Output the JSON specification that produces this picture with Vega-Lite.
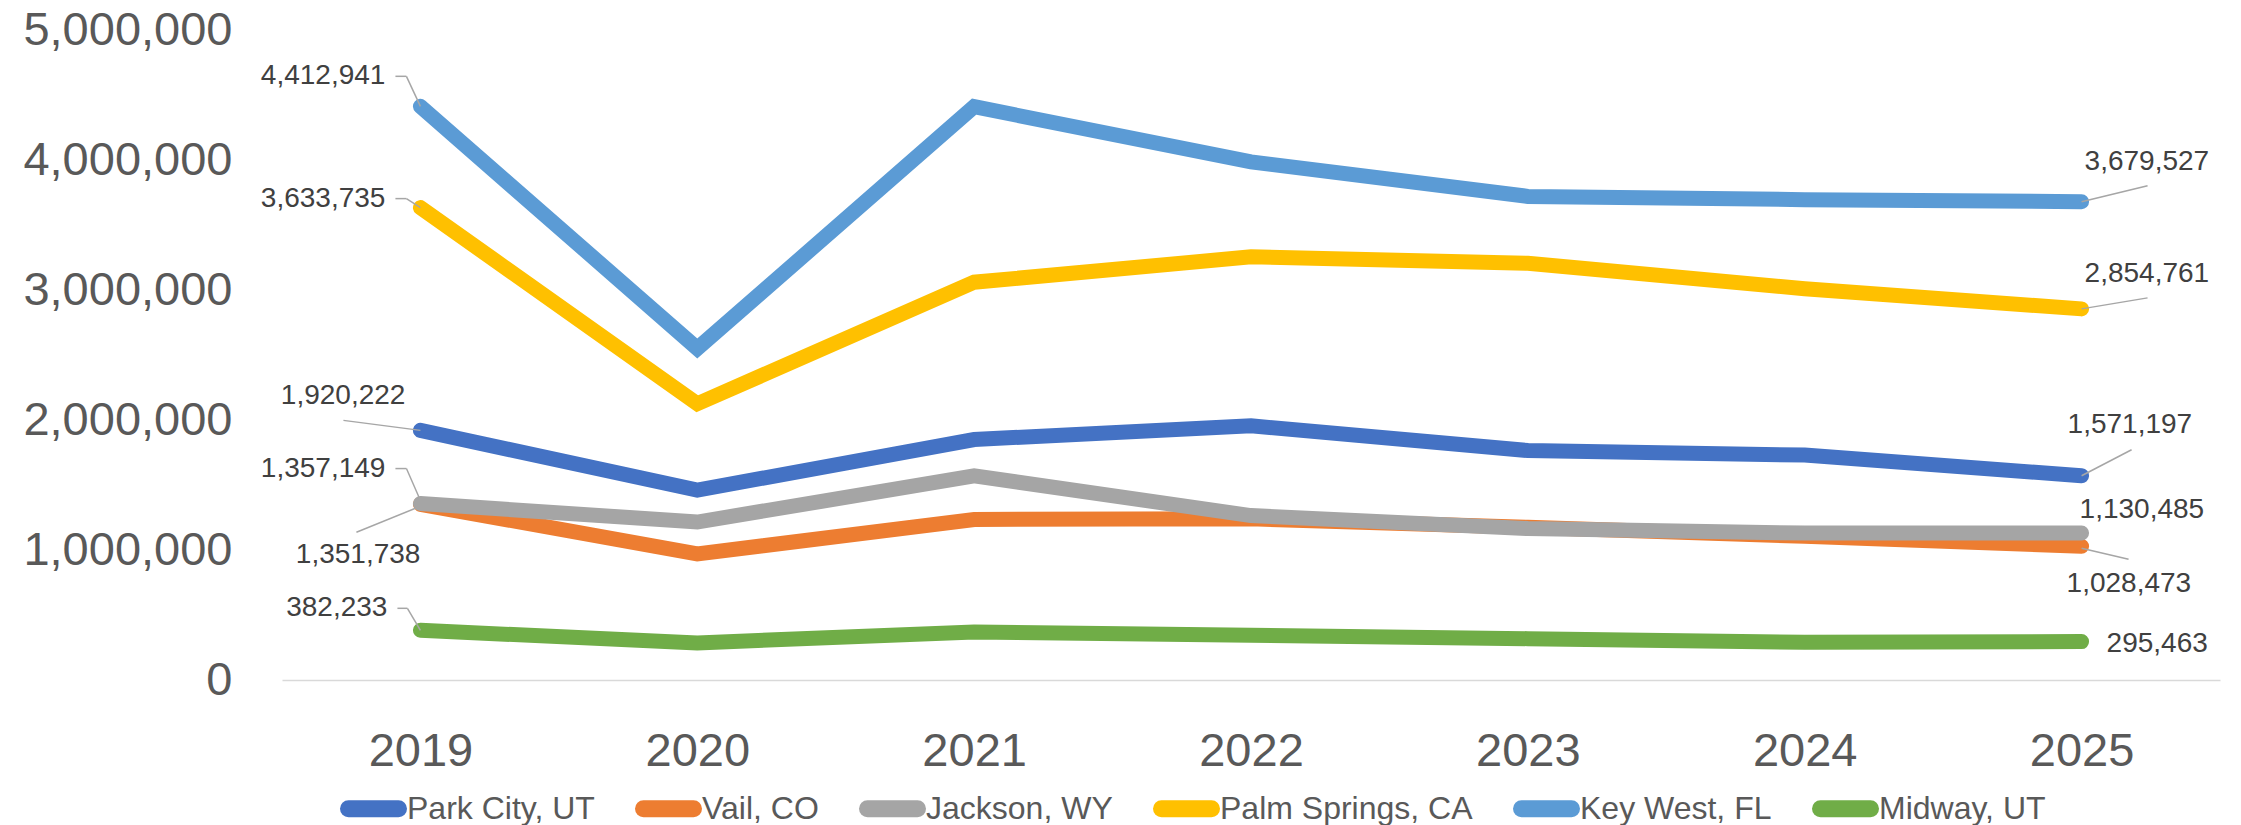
{
  "$schema": "https://vega.github.io/schema/vega-lite/v6.json",
  "autosize": "none",
  "width": 1938,
  "height": 650,
  "padding": {"left": 282, "top": 30, "right": 21, "bottom": 145},
  "background": "white",
  "config": {"view": {"stroke": null}, "font": "Liberation Sans"},
  "data": {"values": [
    {"city": "Park City, UT", "year": "2019", "value": 1920222},
    {"city": "Park City, UT", "year": "2020", "value": 1460000},
    {"city": "Park City, UT", "year": "2021", "value": 1850000},
    {"city": "Park City, UT", "year": "2022", "value": 1955000},
    {"city": "Park City, UT", "year": "2023", "value": 1765000},
    {"city": "Park City, UT", "year": "2024", "value": 1730000},
    {"city": "Park City, UT", "year": "2025", "value": 1571197},
    {"city": "Vail, CO", "year": "2019", "value": 1351738},
    {"city": "Vail, CO", "year": "2020", "value": 970000},
    {"city": "Vail, CO", "year": "2021", "value": 1235000},
    {"city": "Vail, CO", "year": "2022", "value": 1240000},
    {"city": "Vail, CO", "year": "2023", "value": 1175000},
    {"city": "Vail, CO", "year": "2024", "value": 1105000},
    {"city": "Vail, CO", "year": "2025", "value": 1028473},
    {"city": "Jackson, WY", "year": "2019", "value": 1357149},
    {"city": "Jackson, WY", "year": "2020", "value": 1215000},
    {"city": "Jackson, WY", "year": "2021", "value": 1570000},
    {"city": "Jackson, WY", "year": "2022", "value": 1265000},
    {"city": "Jackson, WY", "year": "2023", "value": 1165000},
    {"city": "Jackson, WY", "year": "2024", "value": 1130000},
    {"city": "Jackson, WY", "year": "2025", "value": 1130485},
    {"city": "Palm Springs, CA", "year": "2019", "value": 3633735},
    {"city": "Palm Springs, CA", "year": "2020", "value": 2125000},
    {"city": "Palm Springs, CA", "year": "2021", "value": 3060000},
    {"city": "Palm Springs, CA", "year": "2022", "value": 3255000},
    {"city": "Palm Springs, CA", "year": "2023", "value": 3205000},
    {"city": "Palm Springs, CA", "year": "2024", "value": 3010000},
    {"city": "Palm Springs, CA", "year": "2025", "value": 2854761},
    {"city": "Key West, FL", "year": "2019", "value": 4412941},
    {"city": "Key West, FL", "year": "2020", "value": 2550000},
    {"city": "Key West, FL", "year": "2021", "value": 4410000},
    {"city": "Key West, FL", "year": "2022", "value": 3985000},
    {"city": "Key West, FL", "year": "2023", "value": 3720000},
    {"city": "Key West, FL", "year": "2024", "value": 3695000},
    {"city": "Key West, FL", "year": "2025", "value": 3679527},
    {"city": "Midway, UT", "year": "2019", "value": 382233},
    {"city": "Midway, UT", "year": "2020", "value": 285000},
    {"city": "Midway, UT", "year": "2021", "value": 370000},
    {"city": "Midway, UT", "year": "2022", "value": 345000},
    {"city": "Midway, UT", "year": "2023", "value": 318000},
    {"city": "Midway, UT", "year": "2024", "value": 290000},
    {"city": "Midway, UT", "year": "2025", "value": 295463}
  ]},
  "encoding": {
    "x": {"field": "year", "type": "ordinal", "sort": null,
      "scale": {"type": "point", "padding": 0.5},
      "axis": {"title": null, "labelAngle": 0, "labelFontSize": 47, "labelColor": "#595959", "labelPadding": 48,
        "ticks": false, "tickSize": 0, "domain": true, "domainColor": "#D9D9D9", "domainWidth": 1.5, "grid": false, "labelFont": "Liberation Sans"}},
    "y": {"field": "value", "type": "quantitative",
      "scale": {"domain": [0, 5000000], "nice": false, "zero": true},
      "axis": {"title": null, "values": [0, 1000000, 2000000, 3000000, 4000000, 5000000], "format": ",d",
        "labelFontSize": 47, "labelColor": "#595959", "labelPadding": 50, "ticks": false, "tickSize": 0, "labelLimit": 400,
        "domain": false, "grid": false, "labelFont": "Liberation Sans"}}
  },
  "layer": [
    {
      "mark": {"type": "line", "strokeWidth": 15, "strokeCap": "round", "strokeJoin": "miter"},
      "encoding": {
        "color": {"field": "city", "type": "nominal",
          "scale": {"domain": ["Park City, UT", "Vail, CO", "Jackson, WY", "Palm Springs, CA", "Key West, FL", "Midway, UT"],
            "range": ["#4472C4", "#ED7D31", "#A5A5A5", "#FFC000", "#5B9BD5", "#70AD47"]},
          "legend": {"title": null, "orient": "none", "direction": "horizontal", "legendX": 58, "legendY": 745,
            "symbolType": "stroke", "symbolSize": 2500, "symbolStrokeWidth": 17, "labelFontSize": 32,
            "labelColor": "#595959", "labelFont": "Liberation Sans", "labelOffset": 0, "columnPadding": 14, "padding": 0,
            "labelLimit": 400,
            "encode": {"symbols": {"update": {"strokeCap": {"value": "round"}}}}}}
      }
    },
    {"transform": [{"filter": "datum.city == 'Key West, FL' && datum.year == '2019'"}],
      "mark": {"type": "rule", "color": "#A6A6A6", "strokeWidth": 1.5, "xOffset": -25, "yOffset": -30, "x2Offset": -14, "y2Offset": -30},
      "encoding": {"x2": {"field": "year"}, "y2": {"field": "value"}}},
    {"transform": [{"filter": "datum.city == 'Key West, FL' && datum.year == '2019'"}],
      "mark": {"type": "rule", "color": "#A6A6A6", "strokeWidth": 1.5, "xOffset": -14, "yOffset": -30, "x2Offset": 0, "y2Offset": 0},
      "encoding": {"x2": {"field": "year"}, "y2": {"field": "value"}}},
    {"transform": [{"filter": "datum.city == 'Palm Springs, CA' && datum.year == '2019'"}],
      "mark": {"type": "rule", "color": "#A6A6A6", "strokeWidth": 1.5, "xOffset": -25, "yOffset": -9, "x2Offset": -14, "y2Offset": -9},
      "encoding": {"x2": {"field": "year"}, "y2": {"field": "value"}}},
    {"transform": [{"filter": "datum.city == 'Palm Springs, CA' && datum.year == '2019'"}],
      "mark": {"type": "rule", "color": "#A6A6A6", "strokeWidth": 1.5, "xOffset": -14, "yOffset": -9, "x2Offset": 0, "y2Offset": 0},
      "encoding": {"x2": {"field": "year"}, "y2": {"field": "value"}}},
    {"transform": [{"filter": "datum.city == 'Jackson, WY' && datum.year == '2019'"}],
      "mark": {"type": "rule", "color": "#A6A6A6", "strokeWidth": 1.5, "xOffset": -25, "yOffset": -35, "x2Offset": -14, "y2Offset": -35},
      "encoding": {"x2": {"field": "year"}, "y2": {"field": "value"}}},
    {"transform": [{"filter": "datum.city == 'Jackson, WY' && datum.year == '2019'"}],
      "mark": {"type": "rule", "color": "#A6A6A6", "strokeWidth": 1.5, "xOffset": -14, "yOffset": -35, "x2Offset": 0, "y2Offset": -3},
      "encoding": {"x2": {"field": "year"}, "y2": {"field": "value"}}},
    {"transform": [{"filter": "datum.city == 'Midway, UT' && datum.year == '2019'"}],
      "mark": {"type": "rule", "color": "#A6A6A6", "strokeWidth": 1.5, "xOffset": -23, "yOffset": -22, "x2Offset": -13, "y2Offset": -22},
      "encoding": {"x2": {"field": "year"}, "y2": {"field": "value"}}},
    {"transform": [{"filter": "datum.city == 'Midway, UT' && datum.year == '2019'"}],
      "mark": {"type": "rule", "color": "#A6A6A6", "strokeWidth": 1.5, "xOffset": -13, "yOffset": -22, "x2Offset": 0, "y2Offset": 0},
      "encoding": {"x2": {"field": "year"}, "y2": {"field": "value"}}},
    {"transform": [{"filter": "datum.city == 'Park City, UT' && datum.year == '2019'"}],
      "mark": {"type": "rule", "color": "#A6A6A6", "strokeWidth": 1.5, "xOffset": -77, "yOffset": -10, "x2Offset": 0, "y2Offset": 0},
      "encoding": {"x2": {"field": "year"}, "y2": {"field": "value"}}},
    {"transform": [{"filter": "datum.city == 'Vail, CO' && datum.year == '2019'"}],
      "mark": {"type": "rule", "color": "#A6A6A6", "strokeWidth": 1.5, "xOffset": -64, "yOffset": 28, "x2Offset": -5, "y2Offset": 4},
      "encoding": {"x2": {"field": "year"}, "y2": {"field": "value"}}},
    {"transform": [{"filter": "datum.city == 'Key West, FL' && datum.year == '2025'"}],
      "mark": {"type": "rule", "color": "#A6A6A6", "strokeWidth": 1.5, "xOffset": 66, "yOffset": -16, "x2Offset": 0, "y2Offset": 0},
      "encoding": {"x2": {"field": "year"}, "y2": {"field": "value"}}},
    {"transform": [{"filter": "datum.city == 'Palm Springs, CA' && datum.year == '2025'"}],
      "mark": {"type": "rule", "color": "#A6A6A6", "strokeWidth": 1.5, "xOffset": 66, "yOffset": -11, "x2Offset": 0, "y2Offset": 0},
      "encoding": {"x2": {"field": "year"}, "y2": {"field": "value"}}},
    {"transform": [{"filter": "datum.city == 'Park City, UT' && datum.year == '2025'"}],
      "mark": {"type": "rule", "color": "#A6A6A6", "strokeWidth": 1.5, "xOffset": 50, "yOffset": -26, "x2Offset": 0, "y2Offset": 0},
      "encoding": {"x2": {"field": "year"}, "y2": {"field": "value"}}},
    {"transform": [{"filter": "datum.city == 'Vail, CO' && datum.year == '2025'"}],
      "mark": {"type": "rule", "color": "#A6A6A6", "strokeWidth": 1.5, "xOffset": 0, "yOffset": 2, "x2Offset": 47, "y2Offset": 13},
      "encoding": {"x2": {"field": "year"}, "y2": {"field": "value"}}},
    {"transform": [{"filter": "datum.city == 'Key West, FL' && datum.year == '2019'"}],
      "mark": {"type": "text", "align": "right", "baseline": "middle", "dx": -35, "dy": -30, "fontSize": 28, "color": "#404040", "font": "Liberation Sans"},
      "encoding": {"text": {"field": "value", "format": ","}}},
    {"transform": [{"filter": "datum.city == 'Palm Springs, CA' && datum.year == '2019'"}],
      "mark": {"type": "text", "align": "right", "baseline": "middle", "dx": -35, "dy": -9, "fontSize": 28, "color": "#404040", "font": "Liberation Sans"},
      "encoding": {"text": {"field": "value", "format": ","}}},
    {"transform": [{"filter": "datum.city == 'Park City, UT' && datum.year == '2019'"}],
      "mark": {"type": "text", "align": "right", "baseline": "middle", "dx": -15, "dy": -34, "fontSize": 28, "color": "#404040", "font": "Liberation Sans"},
      "encoding": {"text": {"field": "value", "format": ","}}},
    {"transform": [{"filter": "datum.city == 'Jackson, WY' && datum.year == '2019'"}],
      "mark": {"type": "text", "align": "right", "baseline": "middle", "dx": -35, "dy": -35, "fontSize": 28, "color": "#404040", "font": "Liberation Sans"},
      "encoding": {"text": {"field": "value", "format": ","}}},
    {"transform": [{"filter": "datum.city == 'Vail, CO' && datum.year == '2019'"}],
      "mark": {"type": "text", "align": "right", "baseline": "middle", "dx": 0, "dy": 51, "fontSize": 28, "color": "#404040", "font": "Liberation Sans"},
      "encoding": {"text": {"field": "value", "format": ","}}},
    {"transform": [{"filter": "datum.city == 'Midway, UT' && datum.year == '2019'"}],
      "mark": {"type": "text", "align": "right", "baseline": "middle", "dx": -33, "dy": -22, "fontSize": 28, "color": "#404040", "font": "Liberation Sans"},
      "encoding": {"text": {"field": "value", "format": ","}}},
    {"transform": [{"filter": "datum.city == 'Key West, FL' && datum.year == '2025'"}],
      "mark": {"type": "text", "align": "left", "baseline": "middle", "dx": 3, "dy": -40, "fontSize": 28, "color": "#404040", "font": "Liberation Sans"},
      "encoding": {"text": {"field": "value", "format": ","}}},
    {"transform": [{"filter": "datum.city == 'Palm Springs, CA' && datum.year == '2025'"}],
      "mark": {"type": "text", "align": "left", "baseline": "middle", "dx": 3, "dy": -35, "fontSize": 28, "color": "#404040", "font": "Liberation Sans"},
      "encoding": {"text": {"field": "value", "format": ","}}},
    {"transform": [{"filter": "datum.city == 'Park City, UT' && datum.year == '2025'"}],
      "mark": {"type": "text", "align": "left", "baseline": "middle", "dx": -14, "dy": -51, "fontSize": 28, "color": "#404040", "font": "Liberation Sans"},
      "encoding": {"text": {"field": "value", "format": ","}}},
    {"transform": [{"filter": "datum.city == 'Jackson, WY' && datum.year == '2025'"}],
      "mark": {"type": "text", "align": "left", "baseline": "middle", "dx": -2, "dy": -23, "fontSize": 28, "color": "#404040", "font": "Liberation Sans"},
      "encoding": {"text": {"field": "value", "format": ","}}},
    {"transform": [{"filter": "datum.city == 'Vail, CO' && datum.year == '2025'"}],
      "mark": {"type": "text", "align": "left", "baseline": "middle", "dx": -15, "dy": 38, "fontSize": 28, "color": "#404040", "font": "Liberation Sans"},
      "encoding": {"text": {"field": "value", "format": ","}}},
    {"transform": [{"filter": "datum.city == 'Midway, UT' && datum.year == '2025'"}],
      "mark": {"type": "text", "align": "left", "baseline": "middle", "dx": 25, "dy": 2, "fontSize": 28, "color": "#404040", "font": "Liberation Sans"},
      "encoding": {"text": {"field": "value", "format": ","}}}
  ]
}
